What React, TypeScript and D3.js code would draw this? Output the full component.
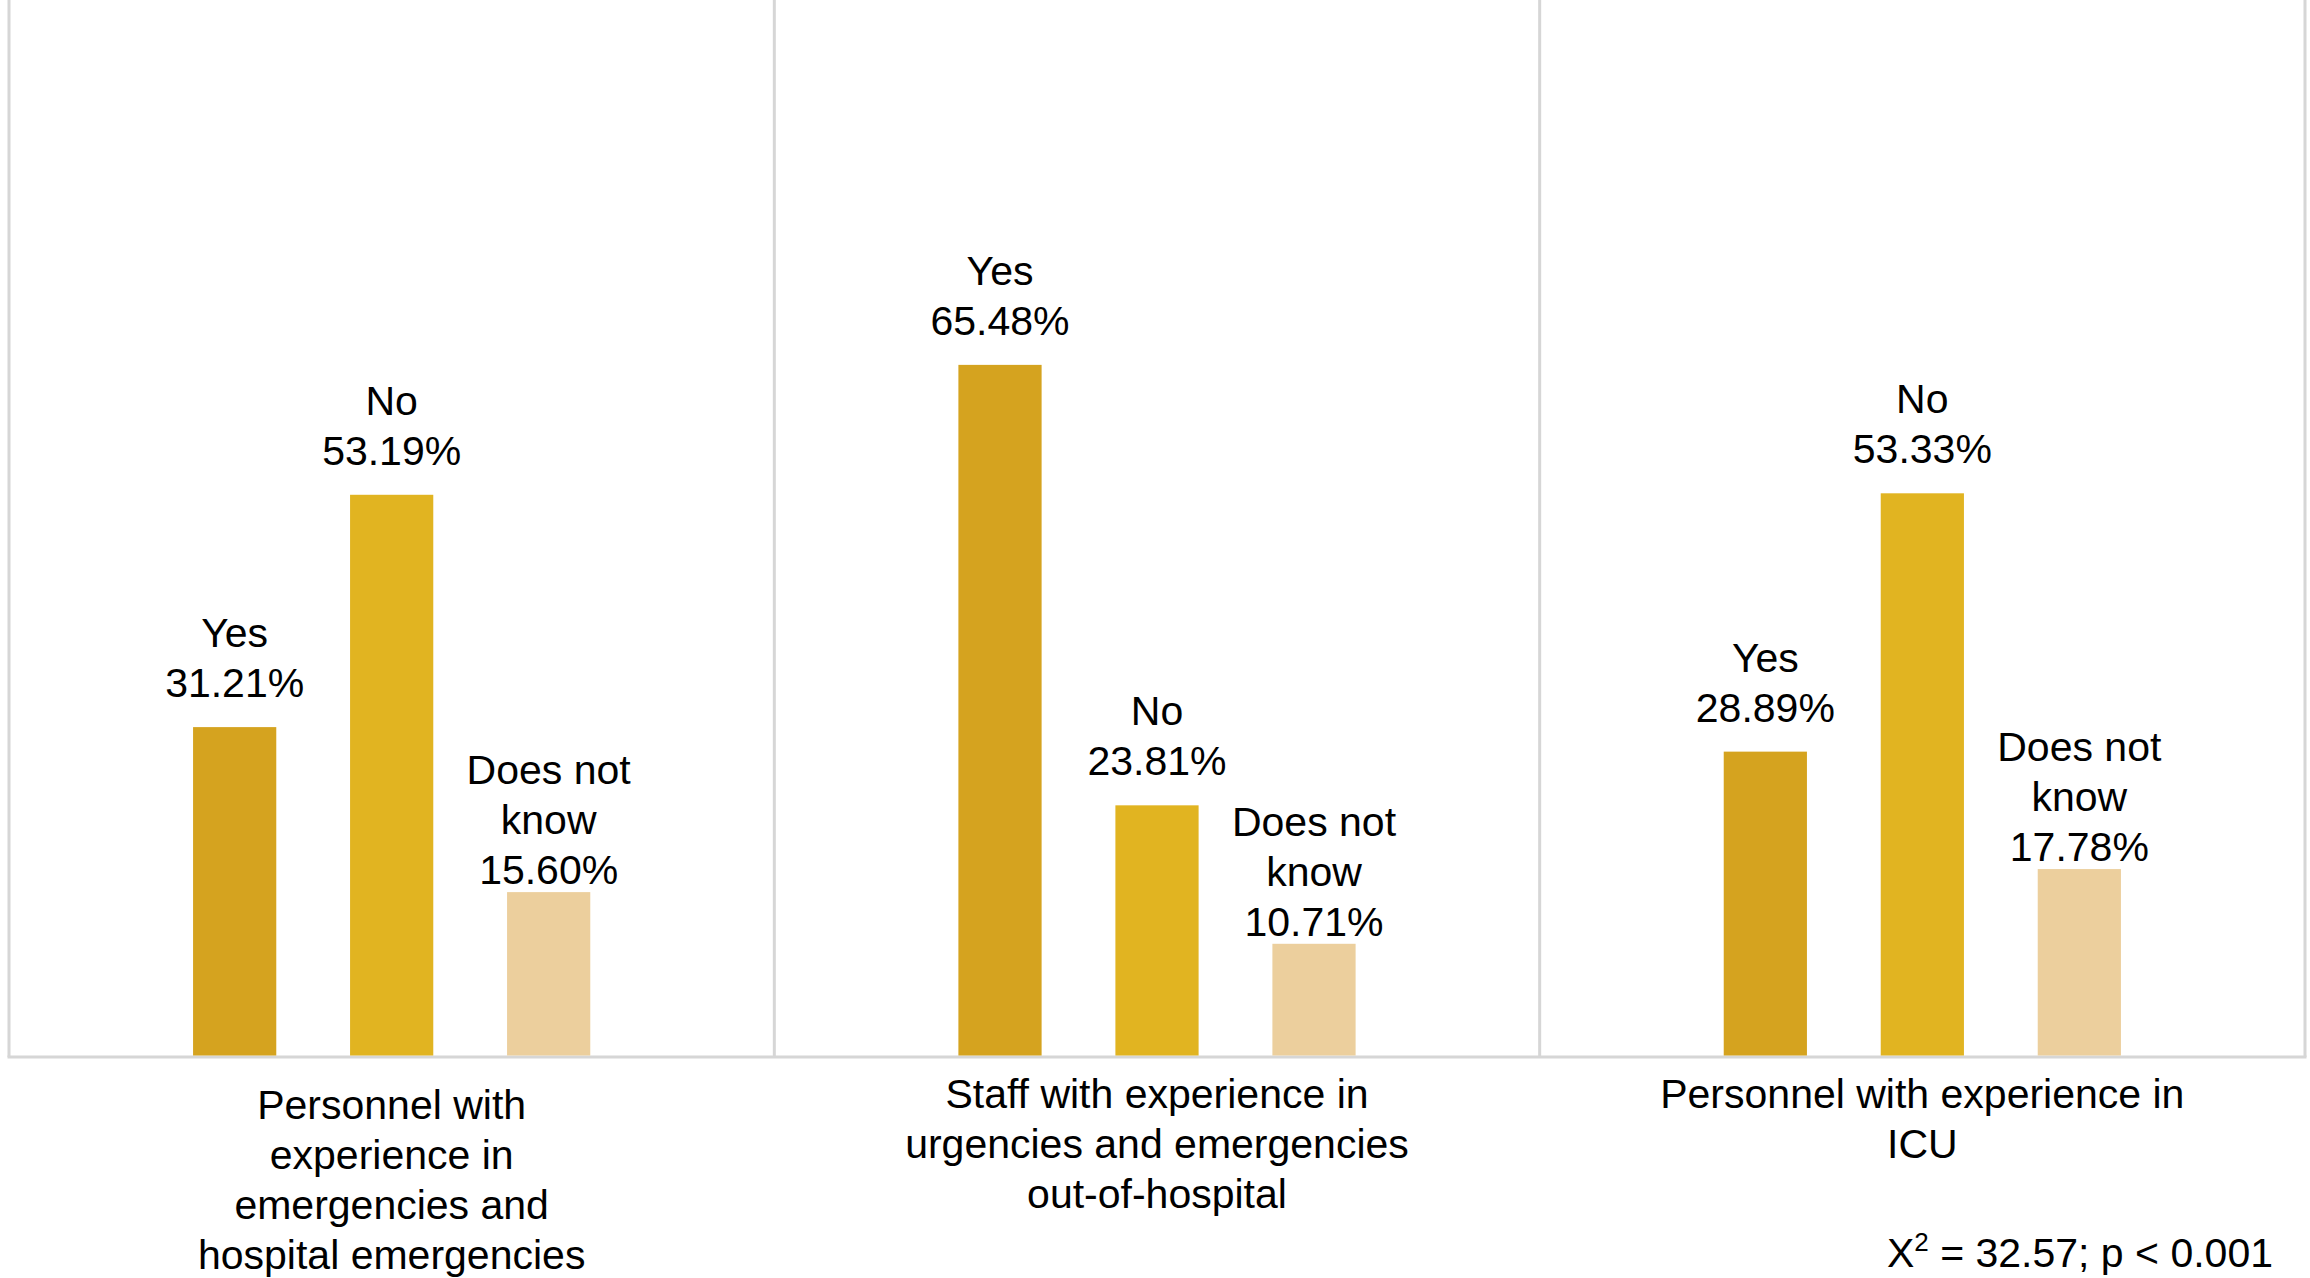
import * as d3 from 'd3';

// Three experience groups, each with Yes / No / Does not know shares (%)
const GROUP_LINES = [
  ['Personnel with', 'experience in', 'emergencies and', 'hospital emergencies'],
  ['Staff with experience in', 'urgencies and emergencies', 'out-of-hospital'],
  ['Personnel with experience in', 'ICU'],
];
const ANSWERS = ['Yes', 'No', 'Does not know'];
const ANSWER_LINES = [['Yes'], ['No'], ['Does not', 'know']];
const YES = [31.21, 65.48, 28.89];
const NO = [53.19, 23.81, 53.33];
const DNK = [15.6, 10.71, 17.78];
const SERIES = [YES, NO, DNK];
const COLORS = ['#D5A31F', '#E1B421', '#ECCF9D'];
const STAT = { chi: '32.57', p: '0.001' };

const W = 2310;
const H = 1278;
const LEFT = 9;
const RIGHT = 2305;
const BASE = 1057;
const STEP = 157;
const FONT = '"Liberation Sans", Arial, Helvetica, sans-serif';
const FS = 41;
const LH = 50;
const GRID = '#d6d6d6';

const fmt = d3.format('.2f');

export default function App() {
  const groups = d3.range(GROUP_LINES.length);
  const x0 = d3.scaleBand<number>().domain(groups).range([LEFT, RIGHT]).padding(0);
  const y = d3.scaleLinear().domain([0, 100]).range([BASE, 0]);

  const inner = (g: number) => {
    const cx = (x0(g) ?? 0) + x0.bandwidth() / 2;
    return d3
      .scaleBand<string>()
      .domain(ANSWERS)
      .range([cx - 1.5 * STEP, cx + 1.5 * STEP])
      .paddingInner(0.47)
      .paddingOuter(0.235);
  };

  const dividers = [...groups.map(g => x0(g) ?? 0), RIGHT];

  return (
    <svg
      width={W}
      height={H}
      viewBox={`0 0 ${W} ${H}`}
      style={{ display: 'block', position: 'absolute', left: 0, top: 0, background: '#fff' }}
      fontFamily={FONT}
    >
      <rect width={W} height={H} fill="#fff" />

      {/* panel frame */}
      {dividers.map((x, i) => (
        <line key={i} x1={x} x2={x} y1={y(100)} y2={BASE} stroke={GRID} strokeWidth={3} />
      ))}
      <line x1={LEFT - 1.5} x2={RIGHT + 1.5} y1={BASE} y2={BASE} stroke={GRID} strokeWidth={3} />

      {groups.map(g => {
        const x1 = inner(g);
        const cx = (x0(g) ?? 0) + x0.bandwidth() / 2;
        const catLines = GROUP_LINES[g];
        const firstBase = 1108 + (catLines.length > 3 ? 11 : 0);
        return (
          <g key={g}>
            {ANSWERS.map((a, i) => {
              const v = SERIES[i][g];
              const bx = x1(a) ?? 0;
              const bw = x1.bandwidth();
              const lines = [...ANSWER_LINES[i], `${fmt(v)}%`];
              const last = y(v) - (lines.length > 2 ? 8 : 30);
              return (
                <g key={a}>
                  <rect x={bx} y={y(v)} width={bw} height={BASE - y(v) - 1.5} fill={COLORS[i]} />
                  <text x={bx + bw / 2} textAnchor="middle" fontSize={FS} fill="#000">
                    {lines.map((t, k) => (
                      <tspan key={k} x={bx + bw / 2} y={last - (lines.length - 1 - k) * LH}>
                        {t}
                      </tspan>
                    ))}
                  </text>
                </g>
              );
            })}
            <text textAnchor="middle" fontSize={FS} fill="#000">
              {catLines.map((t, k) => (
                <tspan key={k} x={cx} y={firstBase + k * LH}>
                  {t}
                </tspan>
              ))}
            </text>
          </g>
        );
      })}

      <text x={2273} y={1267} textAnchor="end" fontSize={FS} fill="#000">
        X
        <tspan fontSize={26} dy={-16}>2</tspan>
        <tspan dy={16}>{` = ${STAT.chi}; p < ${STAT.p}`}</tspan>
      </text>
    </svg>
  );
}
